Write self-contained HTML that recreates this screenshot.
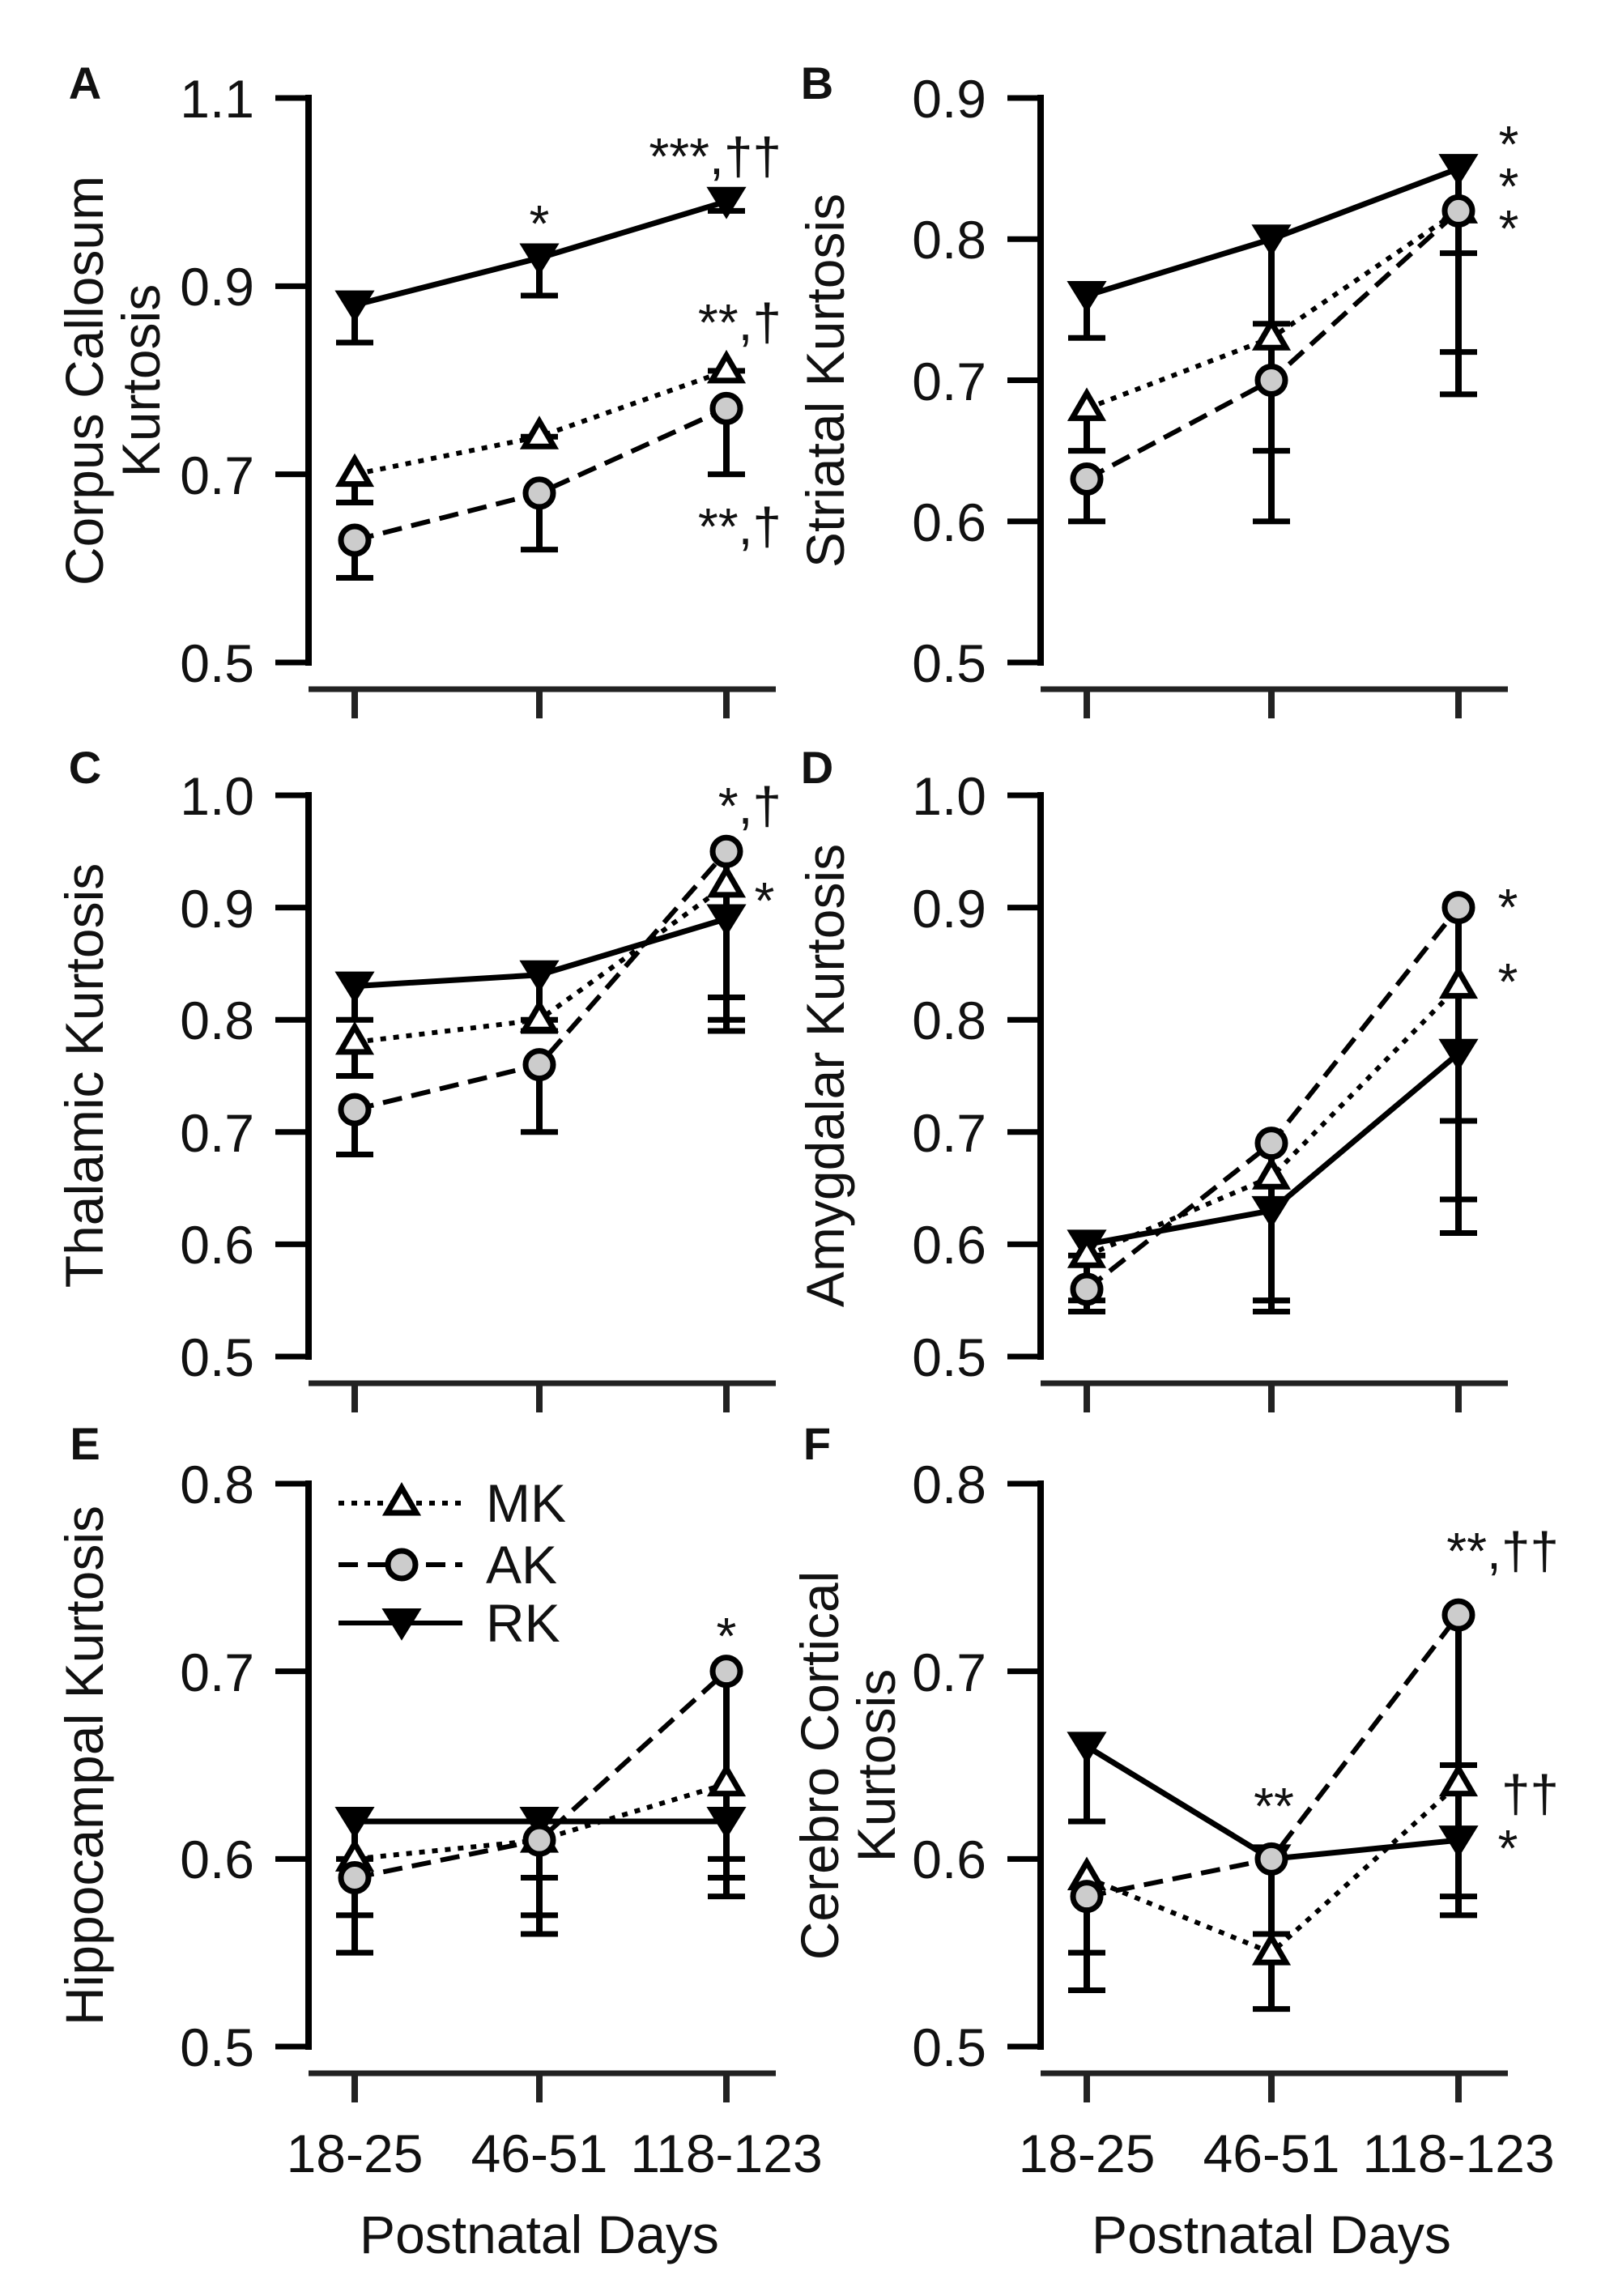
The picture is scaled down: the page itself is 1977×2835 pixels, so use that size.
<!DOCTYPE html>
<html><head><meta charset="utf-8"><style>
html,body{margin:0;padding:0;background:#fff}
svg{display:block}
text{font-family:"Liberation Sans",Arial,sans-serif;fill:#111}
.tk{font-size:66px;text-anchor:end}
.yl{font-size:66px;text-anchor:middle}
.pl{font-size:56px;font-weight:bold;text-anchor:middle}
.an{font-size:64px}
.xl{font-size:66px;text-anchor:middle}
</style></head><body>
<svg id="s" width="1977" height="2835" viewBox="0 0 1977 2835" xmlns="http://www.w3.org/2000/svg">
<rect width="1977" height="2835" fill="#fff"/>
<g id="g"></g>
<text class="pl" x="105" y="122">A</text>
<text class="pl" x="1009" y="122">B</text>
<text class="pl" x="105" y="967">C</text>
<text class="pl" x="1009" y="967">D</text>
<text class="pl" x="105" y="1802">E</text>
<text class="pl" x="1009" y="1802">F</text>
<text class="tk" x="314" y="145">1.1</text>
<text class="tk" x="314" y="377">0.9</text>
<text class="tk" x="314" y="610">0.7</text>
<text class="tk" x="314" y="842">0.5</text>
<text class="tk" x="1218" y="145">0.9</text>
<text class="tk" x="1218" y="319">0.8</text>
<text class="tk" x="1218" y="494">0.7</text>
<text class="tk" x="1218" y="668">0.6</text>
<text class="tk" x="1218" y="842">0.5</text>
<text class="tk" x="314" y="1006">1.0</text>
<text class="tk" x="314" y="1145">0.9</text>
<text class="tk" x="314" y="1283">0.8</text>
<text class="tk" x="314" y="1422">0.7</text>
<text class="tk" x="314" y="1560">0.6</text>
<text class="tk" x="314" y="1699">0.5</text>
<text class="tk" x="1218" y="1006">1.0</text>
<text class="tk" x="1218" y="1145">0.9</text>
<text class="tk" x="1218" y="1283">0.8</text>
<text class="tk" x="1218" y="1422">0.7</text>
<text class="tk" x="1218" y="1560">0.6</text>
<text class="tk" x="1218" y="1699">0.5</text>
<text class="tk" x="314" y="1856">0.8</text>
<text class="tk" x="314" y="2088">0.7</text>
<text class="tk" x="314" y="2319">0.6</text>
<text class="tk" x="314" y="2551">0.5</text>
<text class="tk" x="1218" y="1856">0.8</text>
<text class="tk" x="1218" y="2088">0.7</text>
<text class="tk" x="1218" y="2319">0.6</text>
<text class="tk" x="1218" y="2551">0.5</text>
<text class="yl" transform="translate(127,470) rotate(-90)">Corpus Callosum</text>
<text class="yl" transform="translate(197,470) rotate(-90)">Kurtosis</text>
<text class="yl" transform="translate(1042,470) rotate(-90)">Striatal Kurtosis</text>
<text class="yl" transform="translate(127,1328) rotate(-90)">Thalamic Kurtosis</text>
<text class="yl" transform="translate(1042,1328) rotate(-90)">Amygdalar Kurtosis</text>
<text class="yl" transform="translate(127,2180) rotate(-90)">Hippocampal Kurtosis</text>
<text class="yl" transform="translate(1035,2180) rotate(-90)">Cerebro Cortical</text>
<text class="yl" transform="translate(1105,2180) rotate(-90)">Kurtosis</text>
<text class="xl" x="438" y="2682">18-25</text>
<text class="xl" x="666" y="2682">46-51</text>
<text class="xl" x="897" y="2682">118-123</text>
<text class="xl" x="1342" y="2682">18-25</text>
<text class="xl" x="1570" y="2682">46-51</text>
<text class="xl" x="1801" y="2682">118-123</text>
<text class="xl" x="666" y="2782">Postnatal Days</text>
<text class="xl" x="1570" y="2782">Postnatal Days</text>
<text x="600" y="1879" style="font-size:66px">MK</text>
<text x="600" y="1955" style="font-size:66px">AK</text>
<text x="600" y="2027" style="font-size:66px">RK</text>
<text class="an" x="965" y="215" text-anchor="end">***,††</text>
<text class="an" x="666" y="298" text-anchor="middle">*</text>
<text class="an" x="965" y="420" text-anchor="end">**,†</text>
<text class="an" x="965" y="672" text-anchor="end">**,†</text>
<text class="an" x="1863" y="200" text-anchor="middle">*</text>
<text class="an" x="1863" y="252" text-anchor="middle">*</text>
<text class="an" x="1863" y="304" text-anchor="middle">*</text>
<text class="an" x="965" y="1017" text-anchor="end">*,†</text>
<text class="an" x="944" y="1134" text-anchor="middle">*</text>
<text class="an" x="1862" y="1142" text-anchor="middle">*</text>
<text class="an" x="1862" y="1234" text-anchor="middle">*</text>
<text class="an" x="897" y="2042" text-anchor="middle">*</text>
<text class="an" x="1925" y="1937" text-anchor="end">**,††</text>
<text class="an" x="1925" y="2237" text-anchor="end">††</text>
<text class="an" x="1862" y="2304" text-anchor="middle">*</text>
<text class="an" x="1573" y="2252" text-anchor="middle">**</text>
</svg>
<script>
var NS="http://www.w3.org/2000/svg",g=document.getElementById('g');
function el(t,a){var e=document.createElementNS(NS,t);for(var k in a)e.setAttribute(k,a[k]);g.appendChild(e);return e;}
var styles={MK:"7 9",AK:"24 12",RK:""};
var panels=[
{ax:381,top:121,bot:818,min:0.5,max:1.1,ticks:[1.1,0.9,0.7,0.5],
 RK:[[.88,.84],[.93,.89],[.99,.98]],MK:[[.70,.67],[.74,.74],[.81,.81]],AK:[[.63,.59],[.68,.62],[.77,.70]]},
{ax:1285,top:121,bot:818,min:0.5,max:0.9,ticks:[.9,.8,.7,.6,.5],
 RK:[[.76,.73],[.80,.60],[.85,.69]],MK:[[.68,.65],[.73,.74],[.82,.79]],AK:[[.63,.60],[.70,.65],[.82,.72]]},
{ax:381,top:982,bot:1675,min:0.5,max:1.0,ticks:[1,.9,.8,.7,.6,.5],
 RK:[[.83,.80],[.84,.79],[.89,.79]],MK:[[.78,.75],[.80,.80],[.92,.80]],AK:[[.72,.68],[.76,.70],[.95,.82]]},
{ax:1285,top:982,bot:1675,min:0.5,max:1.0,ticks:[1,.9,.8,.7,.6,.5],
 RK:[[.60,.59],[.63,.54],[.77,.61]],MK:[[.59,.55],[.66,.55],[.83,.64]],AK:[[.56,.54],[.69,.55],[.90,.71]]},
{ax:381,top:1832,bot:2527,min:0.5,max:0.8,ticks:[.8,.7,.6,.5],
 RK:[[.62,.60],[.62,.59],[.62,.58]],MK:[[.60,.57],[.61,.57],[.64,.59]],AK:[[.59,.55],[.61,.56],[.70,.60]]},
{ax:1285,top:1832,bot:2527,min:0.5,max:0.8,ticks:[.8,.7,.6,.5],
 RK:[[.66,.62],[.60,.52],[.61,.57]],MK:[[.59,.55],[.55,.56],[.64,.65]],AK:[[.58,.53],[.60,.56],[.73,.58]]}
];
function marker(k,x,y){
 if(k=="MK")el('path',{d:"M"+x+","+(y-19)+"L"+(x+18)+","+(y+12)+"L"+(x-18)+","+(y+12)+"Z",fill:"#fff",stroke:"#000","stroke-width":7});
 else if(k=="AK")el('circle',{cx:x,cy:y,r:17,fill:"#ccc",stroke:"#000","stroke-width":7});
 else el('path',{d:"M"+(x-21)+","+(y-16)+"L"+(x+21)+","+(y-16)+"L"+x+","+(y+18)+"Z",fill:"#000",stroke:"#000","stroke-width":4});
}
panels.forEach(function(p){
 var xs=[p.ax+57,p.ax+285,p.ax+516];
 function Y(v){return p.bot-(v-p.min)/(p.max-p.min)*(p.bot-p.top);}
 el('line',{x1:p.ax,y1:p.top-4,x2:p.ax,y2:p.bot+4,stroke:"#000","stroke-width":8});
 p.ticks.forEach(function(t){el('line',{x1:p.ax-41,y1:Y(t),x2:p.ax,y2:Y(t),stroke:"#000","stroke-width":7});});
 var xb=p.bot+33;
 el('line',{x1:p.ax,y1:xb,x2:p.ax+577,y2:xb,stroke:"#222","stroke-width":7});
 xs.forEach(function(x){el('line',{x1:x,y1:xb,x2:x,y2:xb+36,stroke:"#222","stroke-width":8});});
 ["MK","AK","RK"].forEach(function(k){
  var d=p[k];
  el('polyline',{points:d.map(function(v,i){return xs[i]+","+Y(v[0]);}).join(" "),fill:"none",stroke:"#000","stroke-width":k=="RK"?7:6,"stroke-dasharray":styles[k]});
 });
 ["MK","AK","RK"].forEach(function(k){
  p[k].forEach(function(v,i){
   el('line',{x1:xs[i],y1:Y(v[0]),x2:xs[i],y2:Y(v[1]),stroke:"#000","stroke-width":8});
   el('line',{x1:xs[i]-23,y1:Y(v[1]),x2:xs[i]+23,y2:Y(v[1]),stroke:"#000","stroke-width":7});
  });
 });
 ["RK","MK","AK"].forEach(function(k){p[k].forEach(function(v,i){marker(k,xs[i],Y(v[0]));});});
});
[["MK",1856],["AK",1932],["RK",2004]].forEach(function(r){
 el('line',{x1:418,y1:r[1],x2:571,y2:r[1],stroke:"#000","stroke-width":6,"stroke-dasharray":styles[r[0]]});
 marker(r[0],496,r[1]);
});
</script>
</body></html>
